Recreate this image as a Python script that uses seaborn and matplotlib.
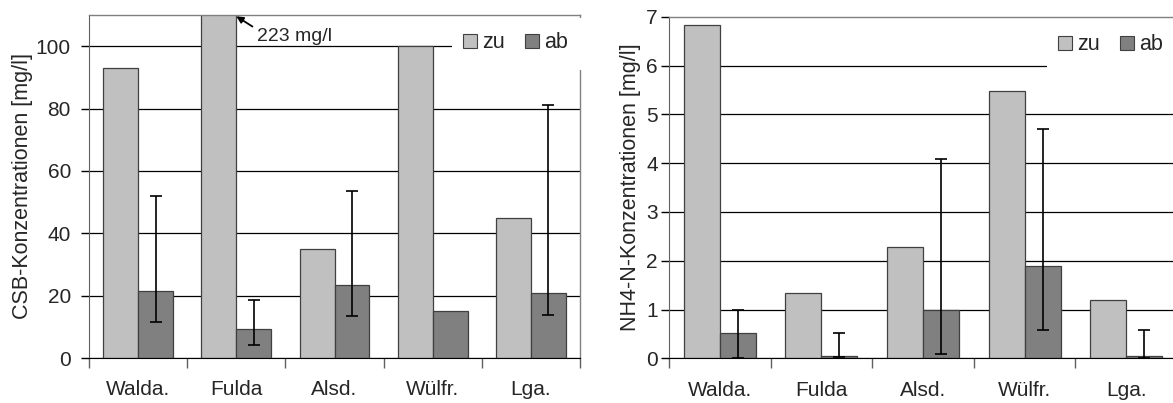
import numpy as np
import pandas as pd
import matplotlib
matplotlib.use("Agg")
import matplotlib.pyplot as plt
from matplotlib.patches import Rectangle
import seaborn as sns

sites = ['Walda.', 'Fulda', 'Alsd.', 'Wülfr.', 'Lga.']
series = ['zu', 'ab']

csb_zu = [93, 223, 35, 100, 45]
csb_ab = [21.5, 9.2, 23.5, 15, 21]
csb_ab_lo = [11.6, 4.3, 13.4, np.nan, 13.8]
csb_ab_hi = [51.8, 18.5, 53.4, np.nan, 81]

nh4_zu = [6.84, 1.34, 2.29, 5.48, 1.19]
nh4_ab = [0.51, 0.05, 1.0, 1.89, 0.05]
nh4_ab_lo = [0.01, 0.02, 0.09, 0.59, 0.01]
nh4_ab_hi = [1.0, 0.51, 4.08, 4.70, 0.59]

sns.set_style('white')
plt.rcParams['font.family'] = ['Liberation Sans', 'DejaVu Sans']

fig = plt.figure(figsize=(11.73, 4.03), dpi=100)
W, H = 1173, 403
ax1 = fig.add_axes([89 / W, 1 - 358 / H, (580 - 89) / W, (358 - 15) / H])
ax2 = fig.add_axes([669 / W, 1 - 358.3 / H, (1177 - 669) / W, (358.3 - 16.7) / H])


def panel(ax, zu, ab, lo, hi, ylim, yticks, ylabel, ypad, labelpad,
          mask_box, leg_anchor, hide_top_grid):
    df = pd.DataFrame({
        'site': sites * 2,
        'typ': ['zu'] * len(sites) + ['ab'] * len(sites),
        'val': list(zu) + list(ab),
    })
    sns.barplot(data=df, x='site', y='val', hue='typ', hue_order=series,
                order=sites, palette=['#C0C0C0', '#808080'], width=0.71,
                edgecolor='#404040', linewidth=0.9, ax=ax, saturation=1)
    ax.set_axisbelow(True)
    ax.set_xlim(-0.5, len(sites) - 0.5)
    ax.set_ylim(*ylim)
    ax.set_yticks(yticks)
    ax.yaxis.grid(True, color='#000000', linewidth=0.9)
    if hide_top_grid:
        ax.get_ygridlines()[-1].set_visible(False)
    ax.xaxis.grid(False)
    ax.set_xlabel('')
    ax.set_ylabel(ylabel, fontsize=15.5, labelpad=labelpad)
    ax.tick_params(axis='y', which='major', left=True, length=6, width=1,
                   color='#000000', direction='out', labelsize=15, pad=ypad)
    ax.tick_params(axis='x', which='major', length=0, labelsize=15, pad=16)
    ax.set_xticks(np.arange(-0.5, len(sites), 1), minor=True)
    ax.tick_params(axis='x', which='minor', bottom=True, length=7, width=1,
                   color='#606060', direction='out')
    for s in ['top', 'right']:
        ax.spines[s].set_color('#808080')
        ax.spines[s].set_linewidth(1)
    ax.spines['top'].set_zorder(11)
    ax.spines['left'].set_color('#606060')
    ax.spines['bottom'].set_color('#000000')
    for s in ax.spines.values():
        s.set_visible(True)

    # error bars on the 'ab' bars
    cont = ax.containers[1]
    xs = [p.get_x() + p.get_width() / 2 for p in cont.patches]
    ab_arr = np.array(ab, dtype=float)
    lo_arr = np.array(lo, dtype=float)
    hi_arr = np.array(hi, dtype=float)
    mask = ~np.isnan(lo_arr)
    ax.errorbar(np.array(xs)[mask], ab_arr[mask],
                yerr=[ab_arr[mask] - lo_arr[mask], hi_arr[mask] - ab_arr[mask]],
                fmt='none', ecolor='#000000', elinewidth=1.2, capsize=4,
                capthick=1.2, zorder=4)

    # white legend background area
    x0, y0, x1, y1 = mask_box
    ax.add_patch(Rectangle((x0, y0), x1 - x0, y1 - y0, transform=ax.transAxes,
                           facecolor='white', edgecolor='none', clip_on=False,
                           zorder=9))

    leg = ax.get_legend()
    handles = leg.legend_handles
    labels = [t.get_text() for t in leg.texts]
    leg.remove()
    for h in handles:
        h.set_edgecolor('#404040')
        h.set_linewidth(0.8)
    lg = ax.legend(handles, labels, loc='center left', bbox_to_anchor=leg_anchor,
                   ncol=2, frameon=False, fontsize=15.5, handlelength=0.64,
                   handleheight=0.64, handletextpad=0.25, columnspacing=0.95,
                   borderpad=0, borderaxespad=0)
    lg.set_zorder(10)


panel(ax1, csb_zu, csb_ab, csb_ab_lo, csb_ab_hi, (0, 110), [0, 20, 40, 60, 80, 100],
      'CSB-Konzentrationen [mg/l]', 7, 2,
      ((452 - 89) / 491, (358 - 70) / 343, (590 - 89) / 491, 0.99),
      ((463 - 89) / 491, (358 - 43) / 343), False)
panel(ax2, nh4_zu, nh4_ab, nh4_ab_lo, nh4_ab_hi, (0, 7), [0, 1, 2, 3, 4, 5, 6, 7],
      'NH4-N-Konzentrationen [mg/l]', 2, 4,
      ((1047 - 669) / 508, (358.3 - 72) / 341.6, 1.02, 0.99),
      ((1058 - 669) / 508, (358.3 - 45) / 341.6), True)

# annotation for clipped Fulda bar
fulda_bar = ax1.containers[0].patches[1]
ax1.annotate('223 mg/l',
             xy=(fulda_bar.get_x() + fulda_bar.get_width(), 109.6),
             xytext=(1.21, 103.2), textcoords='data', ha='left', va='center',
             fontsize=14,
             arrowprops=dict(arrowstyle='-|>', color='#000000', lw=1.3,
                             mutation_scale=10, shrinkA=1, shrinkB=0,
                             relpos=(0, 0.9)),
             annotation_clip=False, zorder=6)

fig.savefig('out.png', dpi=100)
